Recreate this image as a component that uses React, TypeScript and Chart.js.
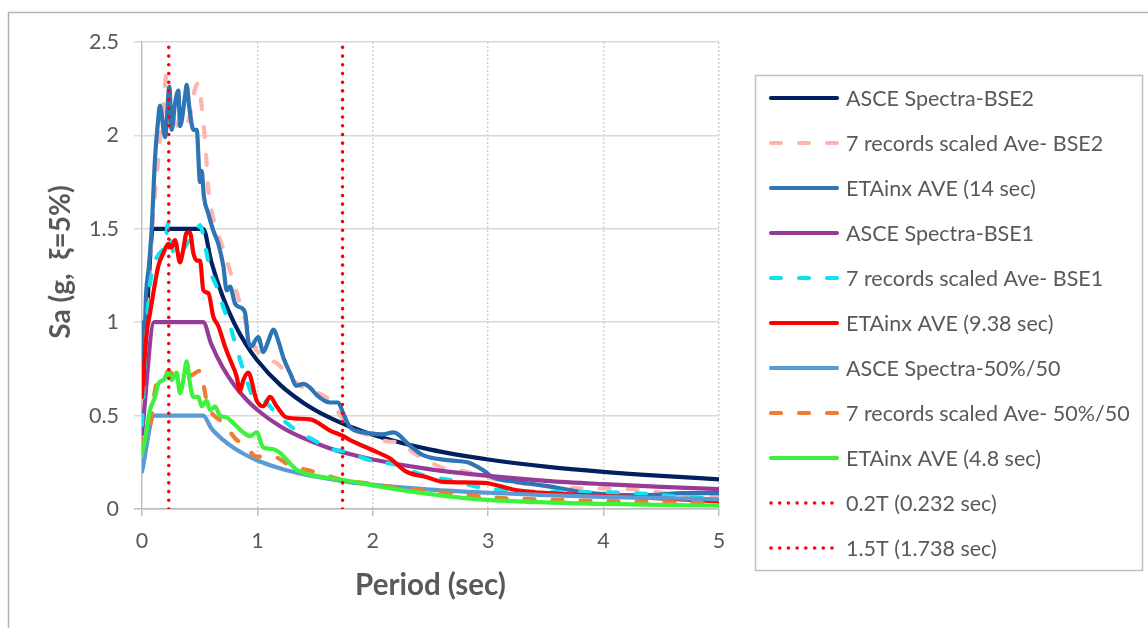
import React, { useEffect, useRef } from "react";
import { Chart, registerables } from "chart.js";

Chart.register(...registerables);

const FONT = "Lato, 'Noto Sans', 'DejaVu Sans', sans-serif";
const TEXT = "#595959";

// ---- axis ticks & titles ----
const xTickValues = [0, 1, 2, 3, 4, 5];
const yTickValues = [0, 0.5, 1, 1.5, 2, 2.5];
const xTitle = "Period (sec)";
const yTitle = "Sa (g,  ξ=5%)";

// ---- series labels ----
const seriesLabels = [
  "ASCE Spectra-BSE2",
  "7 records scaled Ave- BSE2",
  "ETAinx AVE (14 sec)",
  "ASCE Spectra-BSE1",
  "7 records scaled Ave- BSE1",
  "ETAinx AVE (9.38 sec)",
  "ASCE Spectra-50%/50",
  "7 records scaled Ave- 50%/50",
  "ETAinx AVE (4.8 sec)",
  "0.2T (0.232 sec)",
  "1.5T (1.738 sec)",
];

// ---- ASCE design spectra ----
const asceT = [0, 0.106, 0.53, 0.6, 0.7, 0.8, 0.9, 1.0, 1.2, 1.4, 1.6, 1.8, 2.0, 2.5, 3.0, 3.5, 4.0, 4.5, 5.0];
const asceBSE2 = [0.6, 1.5, 1.5, 1.325, 1.136, 0.994, 0.883, 0.795, 0.663, 0.568, 0.497, 0.442, 0.398, 0.318, 0.265, 0.227, 0.199, 0.177, 0.159];
const asceBSE1 = [0.4, 1.0, 1.0, 0.883, 0.757, 0.663, 0.589, 0.53, 0.442, 0.379, 0.331, 0.294, 0.265, 0.212, 0.177, 0.151, 0.133, 0.118, 0.106];
const asce5050 = [0.2, 0.5, 0.5, 0.433, 0.371, 0.325, 0.289, 0.26, 0.217, 0.186, 0.163, 0.144, 0.13, 0.104, 0.087, 0.074, 0.065, 0.058, 0.052];

// ---- 7 records scaled Ave- BSE2 ----
const recBSE2T = [0, 0.03, 0.06, 0.1, 0.127, 0.16, 0.185, 0.215, 0.24, 0.27, 0.31, 0.36, 0.42, 0.46, 0.49, 0.52, 0.55, 0.575, 0.59, 0.62, 0.66, 0.7, 0.75, 0.8, 0.85, 0.9, 0.95, 0.99, 1.05, 1.1, 1.17, 1.28, 1.37, 1.5, 1.63, 1.745, 1.86, 2.0, 2.15, 2.2, 2.38, 2.61, 2.81, 3.1, 3.39, 3.82, 4.11, 4.69, 5.0];
const recBSE2Sa = [0.62, 0.95, 1.25, 1.6, 1.78, 2.0, 2.17, 2.33, 2.2, 2.1, 2.05, 2.03, 2.12, 2.25, 2.28, 2.14, 1.94, 1.71, 1.64, 1.55, 1.47, 1.4, 1.3, 1.2, 1.1, 1.0, 0.92, 0.85, 0.83, 0.8, 0.78, 0.71, 0.66, 0.63, 0.58, 0.48, 0.42, 0.39, 0.36, 0.36, 0.29, 0.22, 0.2, 0.155, 0.13, 0.11, 0.11, 0.075, 0.065];

// ---- ETAinx AVE (14 sec) ----
const eta14T = [0, 0.01, 0.02, 0.035, 0.06, 0.084, 0.113, 0.135, 0.156, 0.2, 0.237, 0.257, 0.286, 0.315, 0.33, 0.373, 0.387, 0.41, 0.445, 0.474, 0.503, 0.517, 0.537, 0.575, 0.618, 0.661, 0.705, 0.734, 0.763, 0.806, 0.849, 0.893, 0.921, 0.95, 0.979, 1.008, 1.051, 1.095, 1.138, 1.181, 1.225, 1.282, 1.34, 1.398, 1.456, 1.514, 1.63, 1.7, 1.745, 1.8, 1.92, 2.09, 2.18, 2.32, 2.43, 2.67, 2.82, 2.95, 3.04, 3.25, 3.54, 3.82, 4.12, 4.4, 4.69, 5.0];
const eta14Sa = [0.65, 1.0, 0.9, 1.15, 1.3, 1.5, 1.88, 2.05, 2.16, 1.99, 2.26, 2.03, 2.17, 2.24, 2.05, 2.21, 2.27, 2.15, 2.03, 2.03, 1.75, 1.81, 1.67, 1.58, 1.49, 1.42, 1.3, 1.17, 1.19, 1.1, 1.08, 1.05, 0.9, 0.87, 0.9, 0.92, 0.84, 0.9, 0.96, 0.9, 0.81, 0.73, 0.66, 0.67, 0.65, 0.61, 0.57, 0.57, 0.51, 0.44, 0.41, 0.4, 0.41, 0.34, 0.29, 0.26, 0.25, 0.21, 0.17, 0.145, 0.12, 0.09, 0.075, 0.075, 0.085, 0.085];

// ---- 7 records scaled Ave- BSE1 ----
const recBSE1T = [0, 0.03, 0.06, 0.1, 0.14, 0.17, 0.2, 0.228, 0.26, 0.3, 0.35, 0.4, 0.45, 0.503, 0.55, 0.589, 0.647, 0.705, 0.763, 0.849, 0.907, 0.965, 1.05, 1.196, 1.34, 1.514, 1.63, 1.745, 1.98, 2.21, 2.44, 2.67, 2.9, 3.13, 3.82, 4.26, 4.69, 5.0];
const recBSE1Sa = [0.45, 0.85, 1.15, 1.3, 1.36, 1.38, 1.42, 1.53, 1.4, 1.35, 1.38, 1.43, 1.45, 1.52, 1.4, 1.28, 1.19, 1.08, 0.98, 0.8, 0.69, 0.6, 0.58, 0.49, 0.42, 0.36, 0.32, 0.31, 0.26, 0.235, 0.18, 0.155, 0.12, 0.1, 0.09, 0.085, 0.065, 0.057];

// ---- ETAinx AVE (9.38 sec) ----
const eta938T = [0, 0.02, 0.04, 0.07, 0.098, 0.141, 0.185, 0.228, 0.257, 0.286, 0.329, 0.358, 0.387, 0.416, 0.445, 0.474, 0.503, 0.532, 0.575, 0.618, 0.661, 0.719, 0.763, 0.82, 0.849, 0.878, 0.921, 0.994, 1.05, 1.11, 1.167, 1.254, 1.456, 1.63, 1.745, 1.8, 1.98, 2.15, 2.29, 2.47, 2.61, 2.96, 3.25, 3.82, 4.4, 5.0];
const eta938Sa = [0.6, 0.78, 0.94, 1.05, 1.155, 1.3, 1.37, 1.42, 1.4, 1.44, 1.32, 1.39, 1.48, 1.48, 1.37, 1.33, 1.33, 1.17, 1.155, 1.03, 0.98, 0.87, 0.8, 0.71, 0.63, 0.69, 0.73, 0.58, 0.55, 0.6, 0.55, 0.49, 0.48, 0.42, 0.39, 0.37, 0.32, 0.27, 0.2, 0.17, 0.145, 0.14, 0.1, 0.075, 0.06, 0.04];

// ---- 7 records scaled Ave- 50%/50 ----
const rec5050T = [0, 0.012, 0.069, 0.127, 0.185, 0.228, 0.3, 0.373, 0.44, 0.503, 0.56, 0.589, 0.705, 0.82, 0.878, 0.994, 1.138, 1.28, 1.485, 1.745, 1.92, 2.2, 2.5, 2.96, 3.5, 4.2, 5.0];
const rec5050Sa = [0.32, 0.37, 0.44, 0.67, 0.69, 0.74, 0.7, 0.7, 0.72, 0.74, 0.58, 0.53, 0.46, 0.37, 0.35, 0.28, 0.28, 0.235, 0.2, 0.155, 0.14, 0.115, 0.095, 0.065, 0.05, 0.04, 0.03];

// ---- ETAinx AVE (4.8 sec) ----
const eta48T = [0, 0.026, 0.069, 0.113, 0.141, 0.185, 0.228, 0.257, 0.3, 0.329, 0.358, 0.387, 0.416, 0.445, 0.488, 0.517, 0.56, 0.589, 0.633, 0.676, 0.734, 0.792, 0.878, 0.936, 0.994, 1.05, 1.138, 1.196, 1.34, 1.485, 1.745, 2.06, 2.5, 2.96, 3.82, 5.0];
const eta48Sa = [0.3, 0.37, 0.53, 0.6, 0.67, 0.69, 0.73, 0.69, 0.73, 0.62, 0.69, 0.79, 0.67, 0.6, 0.6, 0.55, 0.58, 0.53, 0.55, 0.5, 0.49, 0.46, 0.41, 0.39, 0.41, 0.33, 0.32, 0.3, 0.21, 0.18, 0.155, 0.12, 0.08, 0.05, 0.03, 0.018];

// ---- marker periods (0.2T, 1.5T) ----
const markerT = [0.232, 1.738];

// ---- styles (kept separate from data) ----
const STYLES = [
  { color: "#002060", dash: [] as number[], width: 4.2 },
  { color: "#FFB4AE", dash: [10, 18], width: 4.2 },
  { color: "#2E75B6", dash: [] as number[], width: 4.2 },
  { color: "#963C96", dash: [] as number[], width: 4.2 },
  { color: "#0DE3EE", dash: [10, 18], width: 4.2 },
  { color: "#FF0000", dash: [] as number[], width: 4.2 },
  { color: "#5B9BD5", dash: [] as number[], width: 4.2 },
  { color: "#F07B32", dash: [10, 18], width: 4.2 },
  { color: "#3DF23D", dash: [] as number[], width: 4.2 },
  { color: "#FF0000", dash: [0.01, 8.7], width: 3.6 },
  { color: "#FF0000", dash: [0.01, 8.7], width: 3.6 },
];

function pts(T: number[], S: number[]) {
  const n = Math.min(T.length, S.length);
  return Array.from({ length: n }, (_, i) => ({ x: T[i], y: S[i] }));
}

const seriesData = [
  pts(asceT, asceBSE2),
  pts(recBSE2T, recBSE2Sa),
  pts(eta14T, eta14Sa),
  pts(asceT, asceBSE1),
  pts(recBSE1T, recBSE1Sa),
  pts(eta938T, eta938Sa),
  pts(asceT, asce5050),
  pts(rec5050T, rec5050Sa),
  pts(eta48T, eta48Sa),
  [
    { x: markerT[0], y: yTickValues[0] },
    { x: markerT[0], y: yTickValues[yTickValues.length - 1] },
  ],
  [
    { x: markerT[1], y: yTickValues[0] },
    { x: markerT[1], y: yTickValues[yTickValues.length - 1] },
  ],
];

const decorPlugin = {
  id: "decor",
  afterDraw(chart: any) {
    const ctx: CanvasRenderingContext2D = chart.ctx;
    const a = chart.chartArea;
    ctx.save();
    // outer frame (top & left edges visible)
    ctx.strokeStyle = "#b4b4b4";
    ctx.lineWidth = 1.5;
    ctx.setLineDash([]);
    ctx.beginPath();
    ctx.moveTo(8.5, 628);
    ctx.lineTo(8.5, 12.5);
    ctx.lineTo(1148, 12.5);
    ctx.stroke();

    // axis titles
    ctx.fillStyle = TEXT;
    ctx.font = `bold 29.5px ${FONT}`;
    ctx.textAlign = "center";
    ctx.textBaseline = "middle";
    ctx.fillText(xTitle, (a.left + a.right) / 2, 585);
    ctx.font = `bold 28px ${FONT}`;
    ctx.save();
    ctx.translate(61, 262);
    ctx.rotate(-Math.PI / 2);
    ctx.fillText(yTitle, 0, 0);
    ctx.restore();

    // legend box
    ctx.strokeStyle = "#bfbfbf";
    ctx.lineWidth = 1.5;
    ctx.strokeRect(755.5, 75.5, 387, 495);

    ctx.font = `21.5px ${FONT}`;
    ctx.textAlign = "left";
    chart.data.datasets.forEach((ds: any, i: number) => {
      const y = 98 + i * 45;
      const dotted = ds.borderDash && ds.borderDash.length && ds.borderDash[0] < 1;
      ctx.save();
      ctx.strokeStyle = ds.borderColor;
      ctx.lineWidth = ds.borderWidth;
      ctx.lineCap = "round";
      ctx.setLineDash(ds.borderDash || []);
      ctx.beginPath();
      ctx.moveTo(771, y);
      ctx.lineTo(dotted ? 832 : 837, y);
      ctx.stroke();
      ctx.restore();
      ctx.fillStyle = TEXT;
      ctx.fillText(ds.label, 846, y + 1);
    });
    ctx.restore();
  },
};

export default function App() {
  const ref = useRef<HTMLCanvasElement | null>(null);

  useEffect(() => {
    if (!ref.current) return;
    const n = seriesData.length;
    const chart = new Chart(ref.current, {
      type: "line",
      data: {
        datasets: seriesData.map((d, i) => ({
          label: seriesLabels[i],
          data: d,
          borderColor: STYLES[i].color,
          backgroundColor: STYLES[i].color,
          borderWidth: STYLES[i].width,
          borderDash: STYLES[i].dash,
          borderCapStyle: "round",
          borderJoinStyle: "round",
          pointRadius: 0,
          fill: false,
          cubicInterpolationMode: i < 9 ? "monotone" : "default",
          tension: 0,
          order: n - i,
        })),
      },
      options: {
        responsive: false,
        animation: false,
        events: [],
        layout: { padding: { left: 0, top: 42, right: 429, bottom: 0 } },
        plugins: {
          legend: { display: false },
          tooltip: { enabled: false },
          title: { display: false },
        },
        scales: {
          x: {
            type: "linear",
            min: xTickValues[0],
            max: xTickValues[xTickValues.length - 1],
            afterFit: (s: any) => {
              s.height = 119;
            },
            afterBuildTicks: (s: any) => {
              s.ticks = xTickValues.map((v) => ({ value: v }));
            },
            ticks: {
              color: TEXT,
              font: { family: FONT, size: 21.5 },
              padding: 12,
              maxRotation: 0,
              autoSkip: false,
              callback: (v: any) => String(v),
            },
            grid: {
              color: (c: any) => (c.tick && c.tick.value === 0 ? "rgba(0,0,0,0)" : "#cfcfcf"),
              lineWidth: 1.5,
              tickLength: 7,
              tickColor: "#bfbfbf",
              tickWidth: 1.5,
              tickBorderDash: [],
            },
            border: { color: "#bfbfbf", width: 1.5, dash: [2, 2] },
          },
          y: {
            type: "linear",
            min: yTickValues[0],
            max: yTickValues[yTickValues.length - 1],
            afterFit: (s: any) => {
              s.width = 142;
            },
            afterBuildTicks: (s: any) => {
              s.ticks = yTickValues.map((v) => ({ value: v }));
            },
            ticks: {
              color: TEXT,
              font: { family: FONT, size: 21.5 },
              padding: 15,
              autoSkip: false,
              callback: (v: any) => String(v),
            },
            grid: {
              color: (c: any) => (c.tick && c.tick.value === 0 ? "#bfbfbf" : "#d9d9d9"),
              lineWidth: 1.5,
              tickLength: 8,
            },
            border: { color: "#bfbfbf", width: 1.5 },
          },
        },
      },
      plugins: [decorPlugin],
    } as any);
    return () => chart.destroy();
  }, []);

  return (
    <div
      style={{
        position: "fixed",
        left: 0,
        top: 0,
        width: 1148,
        height: 628,
        background: "#ffffff",
        overflow: "hidden",
      }}
    >
      <canvas ref={ref} width={1148} height={628} style={{ display: "block", width: 1148, height: 628 }} />
    </div>
  );
}
